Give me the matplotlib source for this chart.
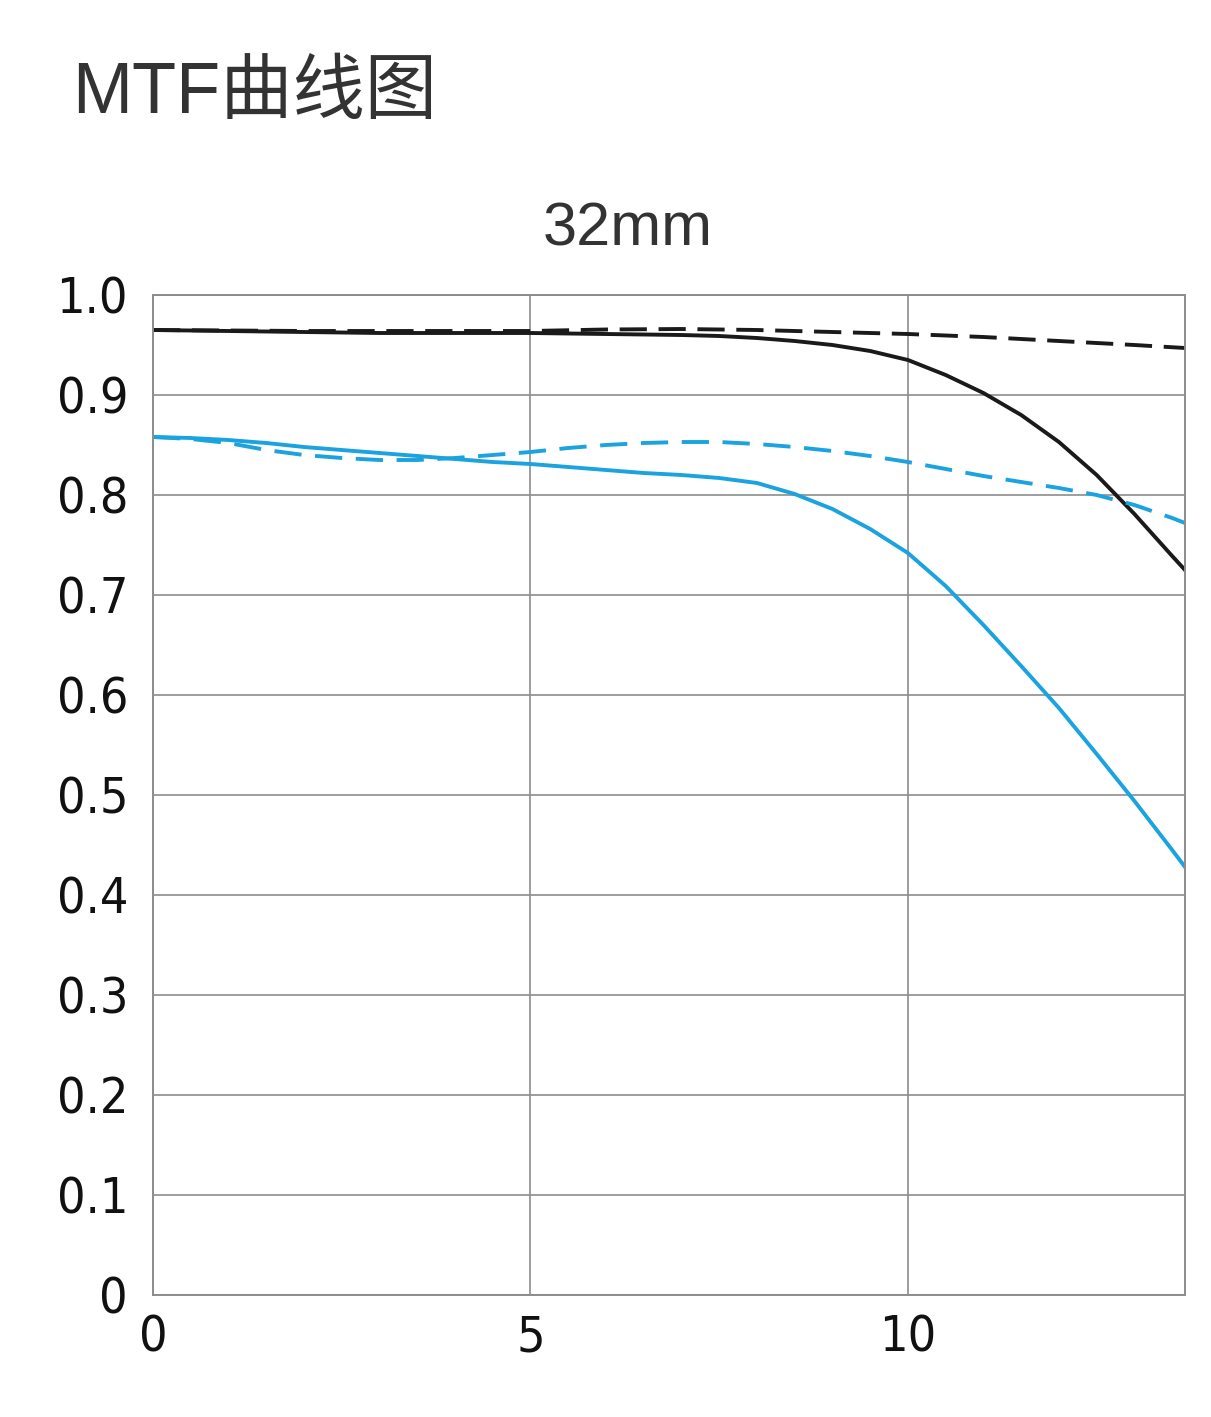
import matplotlib
matplotlib.use("Agg")
import matplotlib.pyplot as plt
from matplotlib import font_manager as fm

# ---- data ----
x_sag = [0, 1, 2, 3, 4, 5, 6, 7, 7.5, 8, 8.5, 9, 9.5, 10, 10.5, 11, 11.5, 12, 12.5, 13, 13.5, 13.67]
black_solid = [0.965, 0.964, 0.963, 0.962, 0.962, 0.962, 0.961, 0.960, 0.959, 0.957, 0.954, 0.950,
               0.944, 0.935, 0.920, 0.902, 0.880, 0.853, 0.820, 0.781, 0.739, 0.725]

x_bd = [0, 2, 4, 5, 6, 7, 8, 9, 10, 11, 12, 13, 13.67]
black_dashed = [0.965, 0.964, 0.964, 0.964, 0.9655, 0.966, 0.965, 0.963, 0.961, 0.958, 0.954, 0.950, 0.947]

x_half = [0, 0.5, 1, 1.5, 2, 2.5, 3, 3.5, 4, 4.5, 5, 5.5, 6, 6.5, 7, 7.5, 8, 8.5, 9, 9.5,
          10, 10.5, 11, 11.5, 12, 12.5, 13, 13.5, 13.67]
blue_solid = [0.858, 0.857, 0.855, 0.852, 0.848, 0.845, 0.842, 0.839, 0.836, 0.833, 0.831, 0.828,
              0.825, 0.822, 0.820, 0.817, 0.812, 0.801, 0.786, 0.766, 0.742, 0.709, 0.670, 0.629,
              0.587, 0.541, 0.494, 0.445, 0.428]
blue_dashed = [0.858, 0.856, 0.852, 0.845, 0.840, 0.837, 0.835, 0.835, 0.837, 0.840, 0.843, 0.847,
               0.850, 0.852, 0.853, 0.853, 0.851, 0.848, 0.844, 0.839, 0.833, 0.826, 0.819, 0.813,
               0.807, 0.800, 0.790, 0.777, 0.772]

x_ticks = [0, 5, 10]
x_ticklabels = ["0", "5", "10"]
y_ticks = [0, 0.1, 0.2, 0.3, 0.4, 0.5, 0.6, 0.7, 0.8, 0.9, 1.0]
y_ticklabels = ["0", "0.1", "0.2", "0.3", "0.4", "0.5", "0.6", "0.7", "0.8", "0.9", "1.0"]

title = "MTF曲线图"
subtitle = "32mm"

names = {f.name for f in fm.fontManager.ttflist}

# ---- figure ----
W, H = 1211, 1417
fig = plt.figure(figsize=(W / 100, H / 100), dpi=100)
fig.patch.set_facecolor("white")

ax = fig.add_axes([153 / W, 1 - 1295 / H, (1185 - 153) / W, (1295 - 295) / H])
ax.set_xlim(0, 13.67)
ax.set_ylim(0, 1.0)

grid_c = "#8c8c8c"
for s in ax.spines.values():
    s.set_color(grid_c)
    s.set_linewidth(1.4)
ax.set_xticks(x_ticks)
ax.set_yticks(y_ticks)
ax.grid(True, color=grid_c, linewidth=1.2)
ax.set_axisbelow(True)

if "Liberation Sans Narrow" in names:
    tick_font = dict(family=["Liberation Sans Narrow", "DejaVu Sans"], size=37)
else:
    tick_font = dict(family=["DejaVu Sans"], stretch="condensed", size=36)
ax.set_xticklabels(x_ticklabels, **tick_font)
ax.set_yticklabels(y_ticklabels, **tick_font)
ax.tick_params(axis="both", length=0, colors="#111111")
ax.tick_params(axis="x", pad=13)
ax.tick_params(axis="y", pad=18)

blue = "#1ba3e0"
black = "#1a1a1a"
ax.plot(x_bd, black_dashed, color=black, lw=2.8, dashes=(7, 3))
ax.plot(x_sag, black_solid, color=black, lw=2.8)
ax.plot(x_half, blue_dashed, color=blue, lw=2.8, dashes=(7, 3.5))
ax.plot(x_half, blue_solid, color=blue, lw=2.8)

fig.text(72 / W, 1 - 113 / H, title, family=["Liberation Sans", "Noto Sans CJK SC"],
         fontsize=52, color="#333333", va="baseline", ha="left")
fig.text(628 / W, 1 - 245 / H, subtitle, family=["Liberation Sans", "DejaVu Sans"],
         fontsize=44, color="#333333", va="baseline", ha="center")

fig.savefig("out.png", dpi=100, facecolor="white")
